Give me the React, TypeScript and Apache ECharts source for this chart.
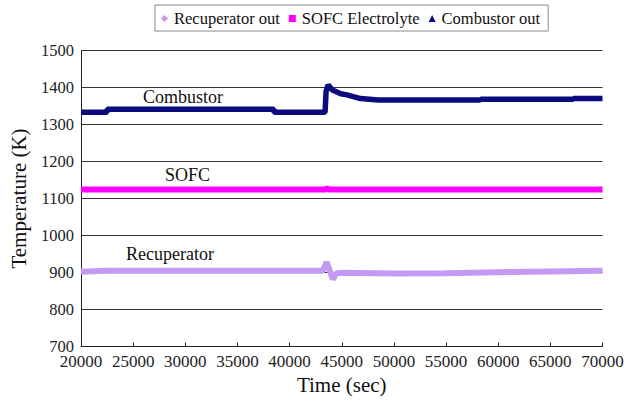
import { useEffect, useRef } from "react";
import * as echarts from "echarts";

// Time axis (sec) and temperature readings (K) for each stream
const recuperatorTime = [20000, 22500, 43200, 43550, 43850, 44150, 44500, 45000, 50000, 55000, 60000, 65000, 70000];
const recuperatorTemp = [902, 905, 905, 928, 905, 882, 898, 899, 897, 898, 901, 903, 905];

const sofcTime = [20000, 43400, 43600, 43800, 70000];
const sofcTemp = [1124, 1124, 1127, 1124, 1124];

const combustorTime = [20000, 22500, 22500, 38500, 38500, 43400, 43500, 43700, 44100, 44900, 45500, 46800, 48500, 58300, 58300, 67200, 67200, 70000];
const combustorTemp = [1333, 1333, 1341, 1341, 1333, 1333, 1390, 1407, 1393, 1383, 1380, 1370, 1366, 1366, 1368, 1368, 1370, 1370];

const seriesNames = ["Recuperator out", "SOFC Electrolyte", "Combustor out"];
const annotationTexts = ["Combustor", "SOFC", "Recuperator"];

const xTicks = { min: 20000, max: 70000, step: 5000 };
const yTicks = { min: 700, max: 1500, step: 100 };

const FONT = "Liberation Serif";

const pair = (t: number[], v: number[]) => t.map((x, i) => [x, v[i]]);

export default function App() {
  const ref = useRef<HTMLDivElement>(null);

  useEffect(() => {
    if (!ref.current) return;
    const chart = echarts.init(ref.current, null, { renderer: "svg" });
    const colors = ["#c39bf3", "#ff00ff", "#0b0b80"];
    chart.setOption({
      animation: false,
      backgroundColor: "#ffffff",
      textStyle: { fontFamily: FONT },
      grid: { left: 80.5, right: 25.5, top: 50.5, bottom: 58.5, containLabel: false },
      legend: {
        left: 155,
        top: 5,
        padding: [5, 8, 4, 6],
        borderColor: "#888888",
        borderWidth: 1,
        itemWidth: 7,
        itemHeight: 7,
        itemGap: 9,
        textStyle: { fontFamily: FONT, fontSize: 16.5, color: "#111", padding: [0, 0, 0, 1] },
        data: [
          { name: seriesNames[0], icon: "diamond" },
          { name: seriesNames[1], icon: "rect" },
          { name: seriesNames[2], icon: "triangle" },
        ],
      },
      xAxis: {
        type: "value",
        min: xTicks.min,
        max: xTicks.max,
        interval: xTicks.step,
        name: "Time (sec)",
        nameLocation: "middle",
        nameGap: 27,
        nameTextStyle: { fontFamily: FONT, fontSize: 21, color: "#111" },
        axisLine: { lineStyle: { color: "#222", width: 1 } },
        axisTick: { inside: true, length: 4, lineStyle: { color: "#222" } },
        axisLabel: { fontFamily: FONT, fontSize: 17, lineHeight: 14, color: "#222", margin: 8, formatter: (v: number) => String(v) },
        splitLine: { show: false },
      },
      yAxis: {
        type: "value",
        min: yTicks.min,
        max: yTicks.max,
        interval: yTicks.step,
        name: "Temperature (K)",
        nameLocation: "middle",
        nameGap: 52,
        nameTextStyle: { fontFamily: FONT, fontSize: 21, color: "#111" },
        axisLine: { show: true, lineStyle: { color: "#222", width: 1 } },
        axisTick: { show: false },
        axisLabel: { fontFamily: FONT, fontSize: 16.5, lineHeight: 13, padding: [0, 0, 6, 0], color: "#222", margin: 7, formatter: (v: number) => String(v) },
        splitLine: { show: true, lineStyle: { color: "#333", width: 1 } },
      },
      series: [
        {
          name: seriesNames[0],
          type: "line",
          data: pair(recuperatorTime, recuperatorTemp),
          showSymbol: false,
          symbol: "diamond",
          color: colors[0],
          lineStyle: { width: 6, color: colors[0] },
          z: 2,
        },
        {
          name: seriesNames[1],
          type: "line",
          data: pair(sofcTime, sofcTemp),
          showSymbol: false,
          symbol: "rect",
          color: colors[1],
          lineStyle: { width: 6, color: colors[1] },
          z: 3,
        },
        {
          name: seriesNames[2],
          type: "line",
          data: pair(combustorTime, combustorTemp),
          showSymbol: false,
          symbol: "triangle",
          color: colors[2],
          lineStyle: { width: 5.5, color: colors[2] },
          z: 4,
        },
      ],
      graphic: [
        { type: "text", x: 143, y: 97, style: { text: annotationTexts[0], fontFamily: FONT, fontSize: 18, fill: "#111", verticalAlign: "middle" } },
        { type: "text", x: 165, y: 175, style: { text: annotationTexts[1], fontFamily: FONT, fontSize: 18, fill: "#111", verticalAlign: "middle" } },
        { type: "text", x: 126, y: 254, style: { text: annotationTexts[2], fontFamily: FONT, fontSize: 18, fill: "#111", verticalAlign: "middle" } },
      ],
    });
    return () => chart.dispose();
  }, []);

  return (
    <div
      ref={ref}
      style={{ position: "fixed", left: 0, top: 0, width: 628, height: 405, background: "#fff" }}
    />
  );
}
